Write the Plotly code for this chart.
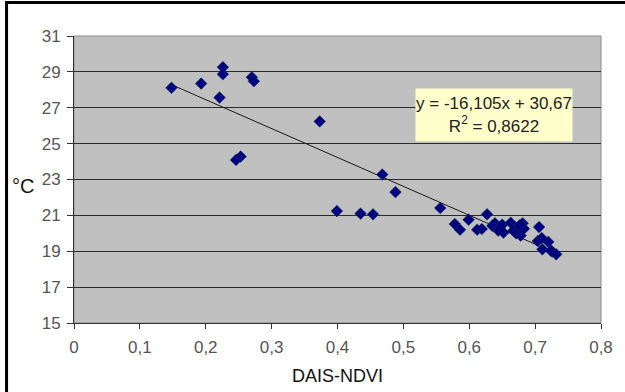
import plotly.graph_objects as go

# DAIS-NDVI versus surface temperature (°C)
ndvi = [0.148, 0.193, 0.226, 0.226, 0.221, 0.270, 0.273, 0.246, 0.253,
        0.373, 0.468, 0.488, 0.399, 0.435, 0.454,
        0.556, 0.578, 0.586, 0.599, 0.627, 0.612, 0.619, 0.635, 0.639,
        0.647, 0.650, 0.644, 0.652, 0.663, 0.667, 0.671, 0.675, 0.678,
        0.681, 0.683, 0.677, 0.706, 0.704, 0.710, 0.711, 0.720, 0.726,
        0.732, 0.724]
temp_c = [28.11, 28.35, 29.26, 28.87, 27.57, 28.70, 28.48, 24.09, 24.28,
          26.24, 23.28, 22.30, 21.24, 21.10, 21.06,
          21.41, 20.52, 20.20, 20.76, 21.06, 20.20, 20.24, 20.42, 20.56,
          20.37, 20.48, 20.15, 20.04, 20.59, 20.15, 20.00, 20.37, 19.87,
          20.56, 20.26, 20.46, 20.35, 19.57, 19.74, 19.11, 19.52, 18.98,
          18.83, 19.03]

# Linear trend: y = slope * x + intercept
slope = -16.105
intercept = 30.67
r_squared = 0.8622

x_ticks = [0, 0.1, 0.2, 0.3, 0.4, 0.5, 0.6, 0.7, 0.8]
y_ticks = [15, 17, 19, 21, 23, 25, 27, 29, 31]

x_fit = [min(ndvi), max(ndvi)]
y_fit = [slope * v + intercept for v in x_fit]

font_family = "Liberation Sans, Arial, sans-serif"

fig = go.Figure()
fig.add_trace(go.Scatter(
    x=x_fit, y=y_fit, mode="lines",
    line=dict(color="#1a1a1a", width=1),
    hoverinfo="skip", showlegend=False,
))
fig.add_trace(go.Scatter(
    x=ndvi, y=temp_c, mode="markers",
    marker=dict(symbol="diamond", size=9, color="#000080",
                line=dict(color="#0a3a40", width=0.5)),
    showlegend=False,
))

def fmt(v, nd):
    return f"{v:.{nd}f}".replace(".", ",")

eq_text = (f"y = -{fmt(abs(slope), 3)}x + {fmt(intercept, 2)}<br>"
           f"R<sup>2</sup> = {fmt(r_squared, 4)}")

# regression equation box
fig.add_annotation(
    x=0.637, y=26.6, xref="x", yref="y",
    text=eq_text, showarrow=False, align="center",
    font=dict(family=font_family, size=17, color="#222"),
    bgcolor="#FFFFCC", borderpad=0, width=156, height=52,
)

# axis titles
fig.add_annotation(
    x=0.5, y=-0.183, xref="paper", yref="paper",
    text="DAIS-NDVI", showarrow=False,
    xanchor="center", yanchor="middle",
    font=dict(family=font_family, size=18, color="#111"),
)
fig.add_annotation(
    x=-0.096, y=0.477, xref="paper", yref="paper",
    text="°C", showarrow=False,
    xanchor="center", yanchor="middle",
    font=dict(family=font_family, size=20, color="#111"),
)

shapes = [
    # plot-area border (top and right)
    dict(type="rect", xref="paper", yref="paper", x0=0, x1=1, y0=0, y1=1,
         line=dict(color="#8c8c8c", width=1), layer="below"),
    # outer frame lines
    dict(type="line", xref="paper", yref="paper", x0=-0.13, x1=1.2,
         y0=1.117, y1=1.117, line=dict(color="black", width=3)),
    dict(type="line", xref="paper", yref="paper", x0=-0.128, x1=-0.128,
         y0=-0.3, y1=1.122, line=dict(color="black", width=3)),
]

fig.update_layout(
    width=625, height=392,
    margin=dict(l=74, r=20, t=36, b=69),
    paper_bgcolor="white",
    plot_bgcolor="#C0C0C0",
    separators=",.",
    font=dict(family=font_family, size=17, color="#444"),
    shapes=shapes,
    xaxis=dict(
        range=[0, 0.8], tickvals=x_ticks, showgrid=False, zeroline=False,
        showline=True, linecolor="#333", linewidth=1,
        ticks="outside", ticklen=5, tickcolor="#333",
        ticklabelstandoff=4,
        tickfont=dict(size=17, color="#555"),
    ),
    yaxis=dict(
        range=[15, 31], tickvals=y_ticks, showgrid=True,
        gridcolor="#2b2b2b", gridwidth=1, zeroline=False,
        showline=True, linecolor="#333", linewidth=1,
        ticks="outside", ticklen=6, tickcolor="#333",
        ticklabelstandoff=3,
        tickfont=dict(size=17, color="#555"),
    ),
)

fig.write_html("out.html")
